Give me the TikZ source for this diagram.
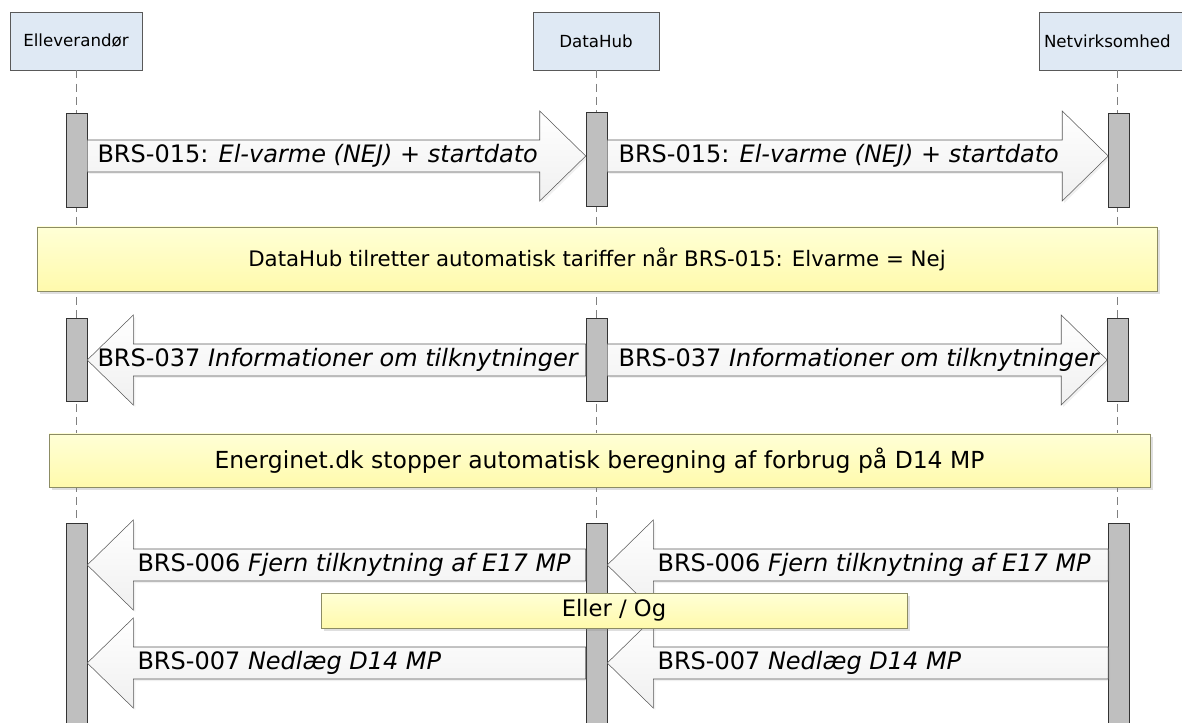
\documentclass[tikz,border=0pt]{standalone}
\usepackage{fontspec}
\setmainfont{DejaVu Sans}
\usetikzlibrary{calc,positioning,shadows}

\definecolor{headfill}{RGB}{223,233,244}
\definecolor{notetop}{RGB}{255,255,214}
\definecolor{notebot}{RGB}{255,250,172}
\definecolor{noteline}{RGB}{140,140,100}
\definecolor{barfill}{RGB}{191,191,191}

\newcommand{\msgfont}{\fontsize{18}{22}\selectfont}
% block arrow from tail #1 to tip #2, #3 = 1 (right) or -1 (left)
\newcommand{\msg}[3]{%
  \draw[msg] ($(#1)+(0,-16)$) -- ($(#2)+(-46*#3,-16)$) -- ($(#2)+(-46*#3,-45)$) -- (#2)
    -- ($(#2)+(-46*#3,45)$) -- ($(#2)+(-46*#3,16)$) -- ($(#1)+(0,16)$) -- cycle;}

\begin{document}
\begin{tikzpicture}[x=0.75pt,y=-0.75pt,
    head/.style={draw=black!65, fill=headfill, inner sep=0pt, minimum height=58*0.75pt, font=\fontsize{12.5}{15}\selectfont},
    life/.style={draw=black!50, dash pattern=on 6pt off 4pt},
    bar/.style={draw=black!80, fill=barfill, inner sep=0pt, minimum width=21*0.75pt},
    msg/.style={draw=black!65, top color=white, bottom color=black!6,
      drop shadow={shadow xshift=1.5pt, shadow yshift=-1.5pt, opacity=0.12}},
    note/.style={draw=noteline, top color=notetop, bottom color=notebot, inner sep=0pt,
      drop shadow={shadow xshift=2.5pt, shadow yshift=-2.5pt, opacity=0.25}},
    lbl/.style={anchor=west, inner sep=0pt, font=\msgfont}]
  \useasboundingbox (0,0) rectangle (1182,723);
  \clip (0,0) rectangle (1182,723);

  % participants
  \node[head, minimum width=132*0.75pt] (elv) at (76,41) {Elleverandør};
  \node[head, minimum width=126*0.75pt] (hub) at (596,41) {DataHub};
  \node[head, minimum width=156*0.75pt, text width=146*0.75pt, align=left] (net) at (1117,41) {Netvirksomhed};

  \draw[life] (elv.south) -- (elv.south |- 0,723);
  \draw[life] (hub.south) -- (hub.south |- 0,723);
  \draw[life] (net.south) -- (net.south |- 0,723);

  % activation bars
  \node[bar, minimum height=94*0.75pt] (elv1) at (76.5,160) {};
  \node[bar, minimum height=94*0.75pt] (hub1) at (596.5,159) {};
  \node[bar, minimum height=94*0.75pt] (net1) at (1119,160) {};
  \node[bar, minimum height=83*0.75pt] (elv2) at (76.5,359.5) {};
  \node[bar, minimum height=83*0.75pt] (hub2) at (596.5,359.5) {};
  \node[bar, minimum height=83*0.75pt] (net2) at (1118,359.5) {};
  \node[bar, minimum height=210*0.75pt] (elv3) at (76.5,628) {};
  \node[bar, minimum height=210*0.75pt] (hub3) at (596.5,628) {};
  \node[bar, minimum height=210*0.75pt] (net3) at (1119,628) {};

  % BRS-015
  \coordinate (a1) at (elv1.east |- 0,156);
  \coordinate (b1) at (hub1.west |- 0,156);
  \coordinate (a2) at (hub1.east |- 0,156);
  \coordinate (b2) at (net1.west |- 0,156);
  \msg{a1}{b1}{1}
  \msg{a2}{b2}{1}
  \node[lbl] (m1) at ($(a1)+(10,0)$) {BRS-015: \textit{El-varme (NEJ) + startdato}};
  \node[lbl] (m2) at ($(a2)+(11,0)$) {BRS-015: \textit{El-varme (NEJ) + startdato}};

  \node[note, minimum width=1120*0.75pt, minimum height=64*0.75pt, font=\fontsize{16}{19}\selectfont] (n1) at (597,259)
    {DataHub tilretter automatisk tariffer når BRS-015: Elvarme = Nej};

  % BRS-037
  \coordinate (a3) at (hub2.west |- 0,360);
  \coordinate (b3) at (elv2.east |- 0,360);
  \coordinate (a4) at (hub2.east |- 0,360);
  \coordinate (b4) at (net2.west |- 0,360);
  \msg{a3}{b3}{-1}
  \msg{a4}{b4}{1}
  \node[lbl] (m3) at ($(b3)+(10,0)$) {BRS-037 \textit{Informationer om tilknytninger}};
  \node[lbl] (m4) at ($(a4)+(11,0)$) {BRS-037 \textit{Informationer om tilknytninger}};

  \node[note, minimum width=1101*0.75pt, minimum height=53*0.75pt, font=\fontsize{17.6}{21}\selectfont] (n2) at (599.5,460.5)
    {Energinet.dk stopper automatisk beregning af forbrug på D14 MP};

  % BRS-006 / BRS-007
  \coordinate (a5) at (hub3.west |- 0,565);
  \coordinate (b5) at (elv3.east |- 0,565);
  \coordinate (a6) at (net3.west |- 0,565);
  \coordinate (b6) at (hub3.east |- 0,565);
  \coordinate (a7) at (hub3.west |- 0,663);
  \coordinate (b7) at (elv3.east |- 0,663);
  \coordinate (a8) at (net3.west |- 0,663);
  \coordinate (b8) at (hub3.east |- 0,663);
  \msg{a5}{b5}{-1}
  \msg{a6}{b6}{-1}
  \msg{a7}{b7}{-1}
  \msg{a8}{b8}{-1}
  \node[lbl] (m5) at ($(b5)+(50,0)$) {BRS-006 \textit{Fjern tilknytning af E17 MP}};
  \node[lbl] (m6) at ($(b6)+(50,0)$) {BRS-006 \textit{Fjern tilknytning af E17 MP}};
  \node[lbl] (m7) at ($(b7)+(50,0)$) {BRS-007 \textit{Nedlæg D14 MP}};
  \node[lbl] (m8) at ($(b8)+(50,0)$) {BRS-007 \textit{Nedlæg D14 MP}};

  \node[note, minimum width=586*0.75pt, minimum height=35*0.75pt, font=\fontsize{17}{20}\selectfont] (n3) at (614,610.5) {Eller / Og};
\end{tikzpicture}
\end{document}
